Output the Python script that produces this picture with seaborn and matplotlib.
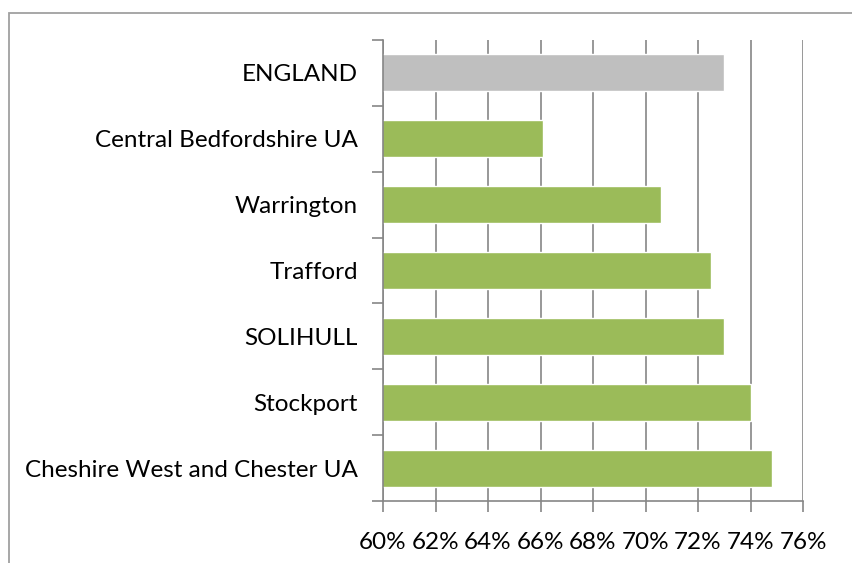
import matplotlib
matplotlib.use("Agg")
import matplotlib.pyplot as plt
import seaborn as sns
import pandas as pd
from matplotlib.ticker import PercentFormatter, FixedLocator, MultipleLocator
from matplotlib.patches import Rectangle

areas = ["ENGLAND", "Central Bedfordshire UA", "Warrington", "Trafford",
         "SOLIHULL", "Stockport", "Cheshire West and Chester UA"]
values = [0.730, 0.661, 0.706, 0.725, 0.730, 0.740, 0.748]
groups = ["England", "Area", "Area", "Area", "Area", "Area", "Area"]
palette = {"England": "#BFBFBF", "Area": "#9BBB59"}

df = pd.DataFrame({"area": areas, "value": values, "group": groups})

sns.set_theme(style="white")
plt.rcParams["font.family"] = ["Lato", "DejaVu Sans"]

W, H = 852, 563
fig = plt.figure(figsize=(W / 100, H / 100), dpi=100)
ax = fig.add_axes([383 / W, 1 - 501 / H, (803 - 383) / W, (501 - 40) / H])

sns.barplot(data=df, x="value", y="area", hue="group", palette=palette,
            dodge=False, legend=False, width=0.56, ax=ax, orient="h",
            saturation=1)

grid_c = "#868686"
ax.set_xlim(0.60, 0.76)
ax.set_ylim(len(areas) - 0.5, -0.5)
ax.xaxis.set_major_locator(MultipleLocator(0.02))
ax.xaxis.set_major_formatter(PercentFormatter(1.0, decimals=0))
ax.grid(axis="x", color=grid_c, linewidth=1.2)
ax.set_axisbelow(True)

ax.yaxis.set_minor_locator(FixedLocator([i - 0.5 for i in range(len(areas) + 1)]))
ax.tick_params(axis="y", which="major", length=0, pad=18, labelsize=17.5, labelcolor="#000000")
ax.tick_params(axis="y", which="minor", left=True, length=8, width=1.2, color=grid_c, direction="out")
ax.tick_params(axis="x", which="major", bottom=True, length=8, width=1.2, color=grid_c,
               direction="out", labelsize=17.5, labelcolor="#000000", pad=14)

for s in ["top", "right"]:
    ax.spines[s].set_visible(False)
for s in ["left", "bottom"]:
    ax.spines[s].set_color(grid_c)
    ax.spines[s].set_linewidth(1.2)

ax.set_xlabel("")
ax.set_ylabel("")

fig.patches.append(Rectangle((9 / W, -0.1), 1.2, 1 + 0.1 - 13 / H, transform=fig.transFigure,
                             fill=False, edgecolor="#A0A0A0", linewidth=1.3, zorder=0))

fig.savefig("out.png", dpi=100)
